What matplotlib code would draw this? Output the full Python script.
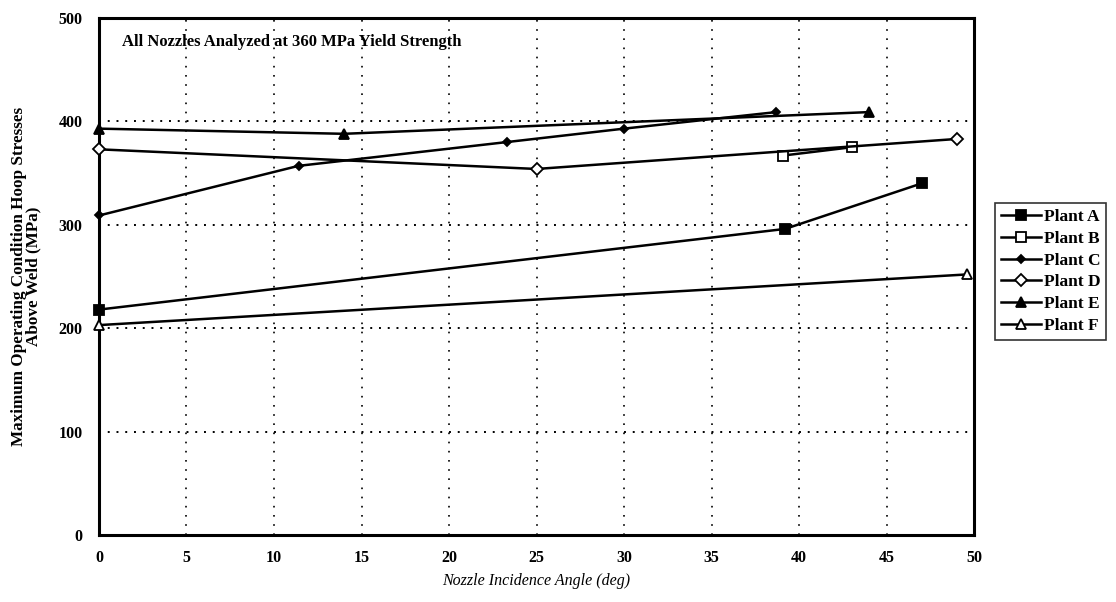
import numpy as np
import matplotlib
matplotlib.use("Agg")
import matplotlib.pyplot as plt

plt.rcParams['font.family'] = ['Liberation Serif', 'DejaVu Serif']

plant_a_x = [0, 39.2, 47.0]
plant_a_y = [218, 296, 340]
plant_b_x = [39.1, 43.0]
plant_b_y = [367, 375]
plant_c_x = [0, 11.4, 23.3, 30.0, 38.7]
plant_c_y = [309, 357, 380, 393, 409]
plant_d_x = [0, 25.0, 49.0]
plant_d_y = [373, 354, 383]
plant_e_x = [0, 14.0, 44.0]
plant_e_y = [393, 388, 409]
plant_f_x = [0, 49.6]
plant_f_y = [203, 252]

x_ticks = [0, 5, 10, 15, 20, 25, 30, 35, 40, 45, 50]
y_ticks = [0, 100, 200, 300, 400, 500]

series = [
    ('Plant A', plant_a_x, plant_a_y, dict(marker='s', ms=7, mfc='black')),
    ('Plant B', plant_b_x, plant_b_y, dict(marker='s', ms=7, mfc='white')),
    ('Plant C', plant_c_x, plant_c_y, dict(marker='D', ms=4.5, mfc='black')),
    ('Plant D', plant_d_x, plant_d_y, dict(marker='D', ms=6, mfc='white')),
    ('Plant E', plant_e_x, plant_e_y, dict(marker='^', ms=6.5, mfc='black')),
    ('Plant F', plant_f_x, plant_f_y, dict(marker='^', ms=7, mfc='white')),
]

fig = plt.figure(figsize=(11.16, 6.02), dpi=100)
ax = fig.add_axes([0.0887, 0.1113, 0.7841, 0.8588])

for name, xs, ys, style in series:
    ax.plot(xs, ys, color='black', lw=1.8, mec='black', mew=1.3,
            label=name, clip_on=False, zorder=3, **style)

ax.set_xlim(0, 50)
ax.set_ylim(0, 500)
ax.set_xticks(x_ticks)
ax.set_yticks(y_ticks)
ax.tick_params(axis='x', length=0, pad=11, labelsize=11.5)
ax.tick_params(axis='y', length=0, pad=12, labelsize=11.5)
for lab in ax.get_xticklabels() + ax.get_yticklabels():
    lab.set_fontweight('bold')

# dotted grid like the original
for gx in x_ticks[1:-1]:
    ax.axvline(gx, color='black', lw=1.2, ls=(0, (1, 4.5)), zorder=1)
for gy in y_ticks[1:-1]:
    ax.axhline(gy, color='black', lw=1.4, ls=(0, (1, 3.5)), zorder=1)

for sp in ax.spines.values():
    sp.set_linewidth(2.2)

ax.text(1.3, 477, 'All Nozzles Analyzed at 360 MPa Yield Strength',
        fontsize=12, fontweight='bold', va='center', ha='left')

ax.set_xlabel('Nozzle Incidence Angle (deg)', fontsize=11.5, style='italic', labelpad=5)
ax.set_ylabel('Maximum Operating Condition Hoop Stresses\nAbove Weld (MPa)',
              fontsize=12.3, fontweight='bold', labelpad=12, linespacing=0.9)

leg = ax.legend(loc='upper left', bbox_to_anchor=(1.024, 0.642), frameon=True,
                fancybox=False, edgecolor='black', prop=dict(size=12.5, weight='bold'),
                handlelength=2.3, handletextpad=0.15, borderpad=0.35,
                labelspacing=0.32, borderaxespad=0)
leg.get_frame().set_linewidth(1.2)

fig.savefig('out.png', dpi=100)
